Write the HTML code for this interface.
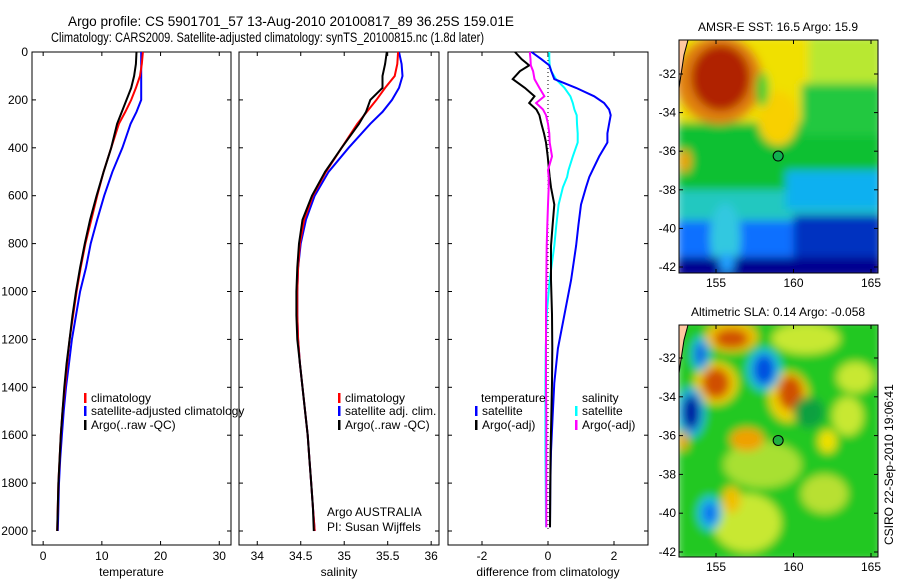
<!DOCTYPE html>
<html><head><meta charset="utf-8"><style>
html,body{margin:0;padding:0;background:#fff;width:900px;height:580px;overflow:hidden;}
svg{display:block;font-family:"Liberation Sans",sans-serif;}
</style></head><body>
<svg id="fig" width="900" height="580" viewBox="0 0 900 580" xmlns="http://www.w3.org/2000/svg" style="overflow:hidden">
<defs>
<filter id="blur" x="-20%" y="-20%" width="140%" height="140%"><feGaussianBlur stdDeviation="4.5"/></filter>
<clipPath id="clipTop"><rect x="679" y="40" width="199" height="233"/></clipPath>
<clipPath id="clipBot"><rect x="679" y="325" width="199" height="232"/></clipPath>
</defs>
<text x="68" y="26" font-size="13.5" textLength="446" lengthAdjust="spacingAndGlyphs">Argo profile: CS 5901701_57 13-Aug-2010 20100817_89 36.25S 159.01E</text>
<text x="51" y="42" font-size="13.5" textLength="433" lengthAdjust="spacingAndGlyphs">Climatology: CARS2009. Satellite-adjusted climatology: synTS_20100815.nc (1.8d later)</text>
<g id="charts"></g>
<g id="maps"></g>
</svg>
<script>
// ---- profile data ----
const tDepth = [0,50,100,150,200,250,300,400,500,600,700,800,900,1000,1100,1200,1300,1400,1500,1600,1700,1800,1900,2000];
const tArgo = [15.9,15.8,15.5,15.0,14.2,13.4,12.6,11.6,10.3,9.1,8.0,7.1,6.3,5.6,5.0,4.5,4.0,3.6,3.3,3.0,2.8,2.6,2.5,2.4];
const tClim = [17.0,16.8,16.5,15.8,15.0,14.0,12.9,11.6,10.3,9.2,8.2,7.2,6.4,5.7,5.1,4.5,4.1,3.7,3.3,3.0,2.8,2.6,2.5,2.4];
const tSat = [16.7,16.7,16.7,16.7,16.7,15.9,14.9,13.5,11.8,10.4,9.2,8.1,7.3,6.3,5.6,4.9,4.4,3.9,3.5,3.2,2.9,2.7,2.6,2.5];
const sDepth = [0,50,100,150,200,250,300,400,500,600,700,800,900,1000,1100,1200,1300,1400,1500,1600,1700,1800,1900,2000];
const sArgo = [35.49,35.47,35.44,35.44,35.30,35.25,35.17,34.97,34.78,34.63,34.52,34.48,34.46,34.45,34.45,34.46,34.49,34.52,34.55,34.58,34.60,34.62,34.64,34.65];
const sClim = [35.62,35.61,35.58,35.47,35.37,35.26,35.15,34.97,34.79,34.64,34.54,34.49,34.47,34.46,34.46,34.47,34.49,34.52,34.55,34.58,34.60,34.62,34.64,34.66];
const sSat = [35.63,35.66,35.67,35.63,35.55,35.44,35.30,35.05,34.82,34.66,34.56,34.50,34.47,34.46,34.46,34.47,34.49,34.52,34.55,34.58,34.60,34.62,34.64,34.66];
const dDepth = [0,30,56,80,113,150,185,213,240,264,300,340,378,436,493,522,565,637,723,809,952,1095,1238,1382,1525,1669,1812,1984];
const dTempSat = [-0.5,-0.2,0.04,0.1,0.19,0.85,1.4,1.7,1.85,1.9,1.85,1.8,1.8,1.55,1.35,1.25,1.15,1.0,0.92,0.85,0.7,0.5,0.3,0.19,0.14,0.09,0.07,0.06];
const dSalSat = [0.04,0.04,0.05,0.1,0.24,0.5,0.68,0.75,0.8,0.87,0.88,0.9,0.9,0.75,0.62,0.58,0.45,0.32,0.25,0.19,0.05,-0.04,-0.07,-0.08,-0.08,-0.08,-0.07,-0.06];
const dTempArgo = [-1.0,-0.8,-0.57,-0.85,-1.07,-0.7,-0.41,-0.57,-0.35,-0.26,-0.2,-0.12,-0.06,-0.01,0.03,0.05,0.09,0.19,0.14,0.09,0.09,0.12,0.13,0.12,0.1,0.08,0.07,0.06];
const dSalArgo = [-0.55,-0.53,-0.52,-0.45,-0.41,-0.26,-0.11,-0.36,-0.15,-0.06,0.0,0.04,0.05,0.12,0.0,0.02,0.02,0.0,-0.02,-0.04,-0.05,-0.06,-0.06,-0.06,-0.05,-0.05,-0.05,-0.05];
const depthTicks = [0,200,400,600,800,1000,1200,1400,1600,1800,2000];
const tTicks = [0,10,20,30];
const sTicks = [34,34.5,35,35.5,36];
const dTicks = [-2,0,2];

const NS="http://www.w3.org/2000/svg";
function mk(tag,attrs,parent){const e=document.createElementNS(NS,tag);for(const k in attrs)e.setAttribute(k,attrs[k]);parent.appendChild(e);return e;}
const charts=document.getElementById('charts');
const yTop=52, yBot=545;
function yD(d){return 52 + d*(531-52)/2000;}

function panel(name,x0,x1,xmin,xmax,ticks,label,showDepth){
  const g=mk('g',{},charts);
  
  
  const xs=v=>x0+(v-xmin)/(xmax-xmin)*(x1-x0);
  const box=mk('rect',{x:x0,y:yTop,width:x1-x0,height:yBot-yTop,fill:'none',stroke:'#000','stroke-width':1},g);
  
  
  depthTicks.forEach(d=>{
    const y=yD(d);
    mk('line',{x1:x0,x2:x0+4,y1:y,y2:y,stroke:'#000'},g);
    mk('line',{x1:x1,x2:x1-4,y1:y,y2:y,stroke:'#000'},g);
    if(showDepth){const t=mk('text',{x:x0-4,y:y+4,'font-size':12,'text-anchor':'end'},g);t.textContent=d;
      
      }
  });
  ticks.forEach(v=>{
    const x=xs(v);
    mk('line',{x1:x,x2:x,y1:yBot,y2:yBot-4,stroke:'#000'},g);
    mk('line',{x1:x,x2:x,y1:yTop,y2:yTop+4,stroke:'#000'},g);
    const t=mk('text',{x:x,y:560,'font-size':12,'text-anchor':'middle'},g);t.textContent=v;
    
    
  });
  const xl=mk('text',{x:(x0+x1)/2,y:576,'font-size':12,'text-anchor':'middle'},g);xl.textContent=label;
  
  
  return {g,xs};
}
function line(p,depths,vals,color,name){
  const pts=depths.map((d,i)=>p.xs(vals[i]).toFixed(1)+','+yD(d).toFixed(1)).join(' ');
  const l=mk('polyline',{points:pts,fill:'none',stroke:color,'stroke-width':2},p.g);
  
  
}
function legend(p,x,y,color,text,name){
  if(color){mk('rect',{x:x-7,y:y-9,width:2.5,height:10,fill:color},p.g);}
  const t=mk('text',{x:x,y:y,'font-size':12},p.g);t.textContent=text;
  
  
}
const p1=panel('temperature-panel',32,231,-1.9,32.0,tTicks,'temperature',true);
line(p1,tDepth,tSat,'#0000ff','temp-satellite-line');
line(p1,tDepth,tClim,'#ff0000','temp-climatology-line');
line(p1,tDepth,tArgo,'#000000','temp-argo-line');
legend(p1,91,402,'#ff0000','climatology','legend-climatology');
legend(p1,91,415,'#0000ff','satellite-adjusted climatology','legend-satellite-adjusted');
legend(p1,91,429,'#000000','Argo(..raw -QC)','legend-argo');

const p2=panel('salinity-panel',239,439,33.79,36.09,sTicks,'salinity',false);
line(p2,sDepth,sSat,'#0000ff','sal-satellite-line');
line(p2,sDepth,sClim,'#ff0000','sal-climatology-line');
line(p2,sDepth,sArgo,'#000000','sal-argo-line');
legend(p2,345,402,'#ff0000','climatology','legend-climatology-2');
legend(p2,345,415,'#0000ff','satellite adj. clim.','legend-satellite-adj-2');
legend(p2,345,429,'#000000','Argo(..raw -QC)','legend-argo-2');
legend(p2,327,516,null,'Argo AUSTRALIA','credit-argo-australia');
legend(p2,327,531,null,'PI: Susan Wijffels','credit-pi');

const p3=panel('difference-panel',448,648,-3.03,3.03,dTicks,'difference from climatology',false);
mk('line',{x1:p3.xs(0),x2:p3.xs(0),y1:yD(0),y2:yD(2000),stroke:'#000','stroke-dasharray':'1,3'},p3.g);
line(p3,dDepth,dSalSat,'#00ffff','sal-satellite-diff-line');
line(p3,dDepth,dTempSat,'#0000ff','temp-satellite-diff-line');
line(p3,dDepth,dTempArgo,'#000000','temp-argo-diff-line');
line(p3,dDepth,dSalArgo,'#ff00ff','sal-argo-diff-line');
legend(p3,481,402,null,'temperature','legend-temperature-header');
legend(p3,482,415,'#0000ff','satellite','legend-temp-satellite');
legend(p3,482,429,'#000000','Argo(-adj)','legend-temp-argo');
legend(p3,582,402,null,'salinity','legend-salinity-header');
legend(p3,582,415,'#00ffff','satellite','legend-sal-satellite');
legend(p3,582,429,'#ff00ff','Argo(-adj)','legend-sal-argo');

// ---- maps ----
const maps=document.getElementById('maps');
const lonTicks=[155,160,165];
const latTicks=[-32,-34,-36,-38,-40,-42];
function mapFrame(name,title,y0,y1,lat32y,lat42y,clip,blobs,dotFill){
  const g=mk('g',{},maps);
  
  
  const lx=lon=>716+(lon-155)*(871-716)/10;
  const ly=lat=>lat32y+(-32-lat)*(lat42y-lat32y)/10;
  const inner=mk('g',{'clip-path':'url(#'+clip+')'},g);
  const bl=mk('g',{filter:'url(#blur)'},inner);
  blobs.forEach(b=>{
    if(b[0]==='r'){mk('rect',{x:lx(b[1]),y:ly(b[2]),width:lx(b[3])-lx(b[1]),height:ly(b[4])-ly(b[2]),fill:b[5]},bl);}
    else{mk('ellipse',{cx:lx(b[1]),cy:ly(b[2]),rx:b[3]*15.5,ry:b[4]*19.4,fill:b[5]},bl);}
  });
  mk('polygon',{points:`679,${y0} 688,${y0} 684,${y0+15} 679,${y0+48}`,fill:'#ffc8a0'},inner);
  mk('polyline',{points:`688,${y0} 684,${y0+15} 679,${y0+48}`,fill:'none',stroke:'#000'},inner);
  mk('rect',{x:679,y:y0,width:199,height:y1-y0,fill:'none',stroke:'#000'},g);
  const c=mk('circle',{cx:lx(159.01),cy:ly(-36.25),r:5,fill:dotFill,stroke:'#000'},g);
  
  
  lonTicks.forEach(v=>{const x=lx(v);mk('line',{x1:x,x2:x,y1:y1,y2:y1-4,stroke:'#000'},g);mk('line',{x1:x,x2:x,y1:y0,y2:y0+4,stroke:'#000'},g);
    const t=mk('text',{x:x,y:y1+14,'font-size':12,'text-anchor':'middle'},g);t.textContent=v;
    
    });
  latTicks.forEach(v=>{const y=ly(v);mk('line',{x1:679,x2:683,y1:y,y2:y,stroke:'#000'},g);mk('line',{x1:878,x2:874,y1:y,y2:y,stroke:'#000'},g);
    const t=mk('text',{x:676,y:y+4,'font-size':12,'text-anchor':'end'},g);t.textContent=v;
    
    });
  const tt=mk('text',{x:778,y:y0-9,'font-size':12,'text-anchor':'middle'},g);tt.textContent=title;
  
  
}
mapFrame('sst-map','AMSR-E SST: 16.5 Argo: 15.9',40,273,74,267,'clipTop',[
 ['r',152.5,-30,165.7,-42.6,'#10c030'],
 ['r',152.5,-30,165.7,-34.5,'#f0e000'],
 ['r',161,-30,165.7,-32.5,'#b8e830'],
 ['r',160.5,-32.5,165.7,-35.2,'#20c840'],
 ['e',155.2,-32.3,2.8,2.3,'#e08010'],
 ['e',155.3,-32.2,1.9,1.7,'#b02000'],
 ['e',159,-34.3,1.3,1.4,'#f8d000'],
 ['e',158,-32.8,0.4,0.9,'#30d030'],
 ['e',153,-36.5,0.4,0.6,'#f0a000'],
 ['r',152.5,-38,165.7,-40,'#20c8c0'],
 ['r',159.5,-37,165.7,-39,'#10b0f0'],
 ['r',152.5,-39.6,165.7,-41.5,'#1070ff'],
 ['r',160,-39.3,165.7,-41.5,'#0030c0'],
 ['e',155.6,-40.5,1.0,1.8,'#30c8e0'],
 ['r',152.5,-41.5,165.7,-42.6,'#000090'],
 ['e',155.7,-41.8,0.5,0.5,'#20a0ff']
],'#10b050');
mapFrame('sla-map','Altimetric SLA: 0.14 Argo: -0.058',325,557,358,552,'clipBot',[
 ['r',152.5,-30,165.7,-42.5,'#20c820'],
 ['e',160.8,-31,2.2,0.8,'#c8e830'],
 ['e',164,-33,1.2,0.8,'#c8e830'],
 ['e',158,-37.5,2.5,1.2,'#a8e030'],
 ['e',157,-40.5,2.2,1.5,'#c8e830'],
 ['e',162,-39,1.5,1.0,'#b8e030'],
 ['e',163.5,-35,1.0,1.0,'#c8e830'],
 ['e',156,-30.9,1.7,0.8,'#f0c000'],
 ['e',156,-31,1.1,0.5,'#d05000'],
 ['e',155,-33.3,1.4,1.1,'#f0d000'],
 ['e',155,-33.3,0.9,0.8,'#d05000'],
 ['e',159.7,-34,1.3,1.3,'#f0d000'],
 ['e',159.8,-33.8,0.8,0.9,'#d05000'],
 ['e',157,-36.2,1.1,0.6,'#f0a000'],
 ['e',156,-39.3,0.6,0.7,'#f0c000'],
 ['e',162.2,-36.3,0.6,0.6,'#f0e000'],
 ['e',161,-34.8,1.0,0.8,'#10a040'],
 ['e',154,-31.8,0.6,0.9,'#20c0e0'],
 ['e',154,-31.8,0.35,0.6,'#1060e0'],
 ['e',158.1,-32.6,1.1,1.1,'#20c0e0'],
 ['e',158.1,-32.6,0.7,0.8,'#0050e0'],
 ['e',153.4,-34.8,0.9,1.3,'#20b0e0'],
 ['e',153.4,-34.8,0.55,0.9,'#0010a0'],
 ['e',154.6,-40,0.8,0.9,'#20c0e0'],
 ['e',154.6,-40,0.45,0.55,'#1070f0'],
 ['e',152.9,-36.3,0.3,0.5,'#f0a000']
],'#20b040');
const ts=mk('text',{x:893,y:545,'font-size':12,transform:'rotate(-90 893 545)'},maps);
ts.textContent='CSIRO 22-Sep-2010 19:06:41';


</script>
</body></html>
